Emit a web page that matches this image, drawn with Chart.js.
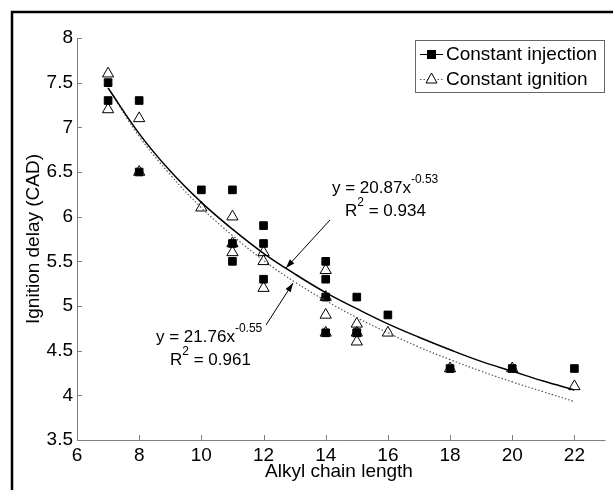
<!DOCTYPE html>
<html>
<head>
<meta charset="utf-8">
<script src="https://cdn.jsdelivr.net/npm/chart.js@4/dist/chart.umd.min.js"></script>
<style>
  body { margin: 0; background: #fff; overflow: hidden; }
  canvas { display: block; }
</style>
</head>
<body>
<canvas id="myChart" width="613" height="490"></canvas>
<script>
// measured points
var injX = [7, 7, 8, 8, 10, 11, 11, 11, 12, 12, 12, 14, 14, 14, 14, 15, 15, 15, 16, 18, 20, 22];
var injY = [7.5, 7.3, 7.3, 6.5, 6.3, 6.3, 5.7, 5.5, 5.9, 5.7, 5.3, 5.5, 5.3, 5.1, 4.7, 5.1, 4.7, 4.7, 4.9, 4.3, 4.3, 4.3];
var ignX = [7, 7, 8, 8, 10, 11, 11, 11, 12, 12, 12, 14, 14, 14, 14, 15, 15, 15, 16, 18, 20, 22];
var ignY = [7.6, 7.2, 7.1, 6.5, 6.1, 6.0, 5.7, 5.6, 5.6, 5.5, 5.2, 5.4, 5.1, 4.9, 4.7, 4.8, 4.7, 4.6, 4.7, 4.3, 4.3, 4.1];

// trend lines
var fitX = [7, 8, 9, 10, 11, 12, 13, 14, 15, 16, 17, 18, 19, 20, 21, 22];
var fitInj = [7.44, 6.93, 6.51, 6.16, 5.86, 5.59, 5.36, 5.15, 4.97, 4.80, 4.65, 4.51, 4.38, 4.27, 4.16, 4.06];
var fitIgn = [7.44, 6.90, 6.47, 6.10, 5.79, 5.51, 5.27, 5.06, 4.87, 4.70, 4.54, 4.40, 4.27, 4.15, 4.04, 3.93];

var xTicks = [6, 8, 10, 12, 14, 16, 18, 20, 22];
var yTicks = [3.5, 4, 4.5, 5, 5.5, 6, 6.5, 7, 7.5, 8];

var FONT = "'Liberation Sans', Arial, Helvetica, sans-serif";

function pts(xs, ys) {
  return xs.map(function (x, i) { return { x: x, y: ys[i] }; });
}

function arrow(ctx, x1, y1, x2, y2) {
  var a = Math.atan2(y2 - y1, x2 - x1);
  ctx.beginPath();
  ctx.moveTo(x1, y1);
  ctx.lineTo(x2, y2);
  ctx.stroke();
  ctx.beginPath();
  ctx.moveTo(x2, y2);
  ctx.lineTo(x2 - 9 * Math.cos(a) + 3 * Math.sin(a), y2 - 9 * Math.sin(a) - 3 * Math.cos(a));
  ctx.lineTo(x2 - 9 * Math.cos(a) - 3 * Math.sin(a), y2 - 9 * Math.sin(a) + 3 * Math.cos(a));
  ctx.closePath();
  ctx.fill();
}

// text with a superscript part: base, sup, rest
function supText(ctx, x, y, base, sup, rest) {
  ctx.font = "17px " + FONT;
  ctx.fillText(base, x, y);
  var w = ctx.measureText(base).width;
  ctx.font = "12px " + FONT;
  ctx.fillText(sup, x + w, y - 8);
  var w2 = ctx.measureText(sup).width;
  if (rest) {
    ctx.font = "17px " + FONT;
    ctx.fillText(rest, x + w + w2, y);
  }
}

var extras = {
  id: "extras",
  beforeDraw: function (chart) {
    var ctx = chart.ctx;
    ctx.save();
    ctx.fillStyle = "#fff";
    ctx.fillRect(0, 0, chart.width, chart.height);
    // frame of the figure, cut off on the right and at the bottom
    ctx.strokeStyle = "#000";
    ctx.lineWidth = 2.5;
    ctx.beginPath();
    ctx.moveTo(12, chart.height);
    ctx.lineTo(12, 12);
    ctx.lineTo(chart.width, 12);
    ctx.stroke();
    ctx.restore();
  },
  beforeDatasetsDraw: function (chart) {
    var ctx = chart.ctx, a = chart.chartArea;
    var xs = chart.scales.x, ys = chart.scales.y;
    ctx.save();
    ctx.strokeStyle = "#808080";
    ctx.lineWidth = 1;
    ctx.beginPath();
    ctx.moveTo(a.left + 0.5, a.top);
    ctx.lineTo(a.left + 0.5, a.bottom + 0.5);
    ctx.lineTo(a.right, a.bottom + 0.5);
    ctx.stroke();
    ctx.beginPath();
    yTicks.forEach(function (v) {
      var y = Math.round(ys.getPixelForValue(v)) + 0.5;
      ctx.moveTo(a.left, y);
      ctx.lineTo(a.left + 5, y);
    });
    xTicks.forEach(function (v) {
      var x = Math.round(xs.getPixelForValue(v)) + 0.5;
      ctx.moveTo(x, a.bottom);
      ctx.lineTo(x, a.bottom - 5);
    });
    ctx.stroke();
    ctx.restore();
  },
  afterDraw: function (chart) {
    var ctx = chart.ctx;
    ctx.save();
    ctx.fillStyle = "#000";
    ctx.strokeStyle = "#000";
    ctx.textBaseline = "middle";

    // axis titles
    ctx.font = "19px " + FONT;
    ctx.textAlign = "center";
    ctx.fillText("Alkyl chain length", 339, 472);
    ctx.save();
    ctx.translate(34, 239);
    ctx.rotate(-Math.PI / 2);
    ctx.fillText("Ignition delay (CAD)", 0, 0);
    ctx.restore();

    // equations
    ctx.textAlign = "left";
    supText(ctx, 332, 188, "y = 20.87x", "-0.53");
    supText(ctx, 345, 211, "R", "2", " = 0.934");
    supText(ctx, 156, 337, "y = 21.76x", "-0.55");
    supText(ctx, 170, 360, "R", "2", " = 0.961");

    ctx.lineWidth = 1;
    arrow(ctx, 330, 220, 286, 268);
    arrow(ctx, 266, 325, 293, 283);

    // legend
    ctx.fillStyle = "#fff";
    ctx.fillRect(415, 40, 189, 52);
    ctx.strokeStyle = "#666";
    ctx.strokeRect(415.5, 40.5, 189, 52);
    ctx.fillStyle = "#000";
    ctx.strokeStyle = "#000";
    ctx.beginPath();
    ctx.moveTo(420, 54.5);
    ctx.lineTo(443, 54.5);
    ctx.stroke();
    ctx.fillRect(427, 50, 9, 9);
    ctx.save();
    ctx.strokeStyle = "#555";
    ctx.setLineDash([1.5, 2]);
    ctx.beginPath();
    ctx.moveTo(420, 79.5);
    ctx.lineTo(443, 79.5);
    ctx.stroke();
    ctx.restore();
    ctx.fillStyle = "#fff";
    ctx.beginPath();
    ctx.moveTo(431.5, 73);
    ctx.lineTo(437, 83);
    ctx.lineTo(426, 83);
    ctx.closePath();
    ctx.fill();
    ctx.stroke();
    ctx.fillStyle = "#000";
    ctx.font = "19px " + FONT;
    ctx.fillText(chart.data.datasets[0].label, 446, 55);
    ctx.fillText(chart.data.datasets[1].label, 446, 80);
    ctx.restore();
  }
};

new Chart("myChart", {
  type: "scatter",
  data: {
    datasets: [{
      label: "Constant injection",
      data: pts(injX, injY),
      pointStyle: "rect",
      pointRadius: 5.4,
      backgroundColor: "#000",
      borderColor: "#000",
      borderWidth: 1,
      order: 4
    }, {
      label: "Constant ignition",
      data: pts(ignX, ignY),
      pointStyle: "triangle",
      pointRadius: 6.5,
      backgroundColor: "rgba(0,0,0,0)",
      borderColor: "#000",
      borderWidth: 1,
      order: 3
    }, {
      type: "line",
      label: "fit injection",
      data: pts(fitX, fitInj),
      borderColor: "#000",
      borderWidth: 1.5,
      pointRadius: 0,
      tension: 0.4,
      fill: false,
      order: 1
    }, {
      type: "line",
      label: "fit ignition",
      data: pts(fitX, fitIgn),
      borderColor: "#555",
      borderWidth: 1.2,
      borderDash: [1.5, 2],
      pointRadius: 0,
      tension: 0.4,
      fill: false,
      order: 2
    }]
  },
  options: {
    responsive: false,
    animation: false,
    layout: { padding: { left: 0, top: 38, right: 6, bottom: 0 } },
    plugins: {
      legend: { display: false },
      tooltip: { enabled: false }
    },
    scales: {
      x: {
        type: "linear",
        min: 6,
        max: 23,
        afterFit: function (s) { s.height = 50; },
        afterBuildTicks: function (s) { s.ticks = xTicks.map(function (v) { return { value: v }; }); },
        grid: { display: false, drawTicks: false },
        border: { display: false },
        ticks: {
          font: { family: FONT, size: 19 }, color: "#000", padding: 4, maxRotation: 0, autoSkip: false,
          callback: function (v) { return String(v); }
        }
      },
      y: {
        min: 3.5,
        max: 8,
        afterFit: function (s) { s.width = 77; },
        afterBuildTicks: function (s) { s.ticks = yTicks.map(function (v) { return { value: v }; }); },
        grid: { display: false, drawTicks: false },
        border: { display: false },
        ticks: {
          font: { family: FONT, size: 19 }, color: "#000", padding: 4, autoSkip: false,
          callback: function (v) { return String(v); }
        }
      }
    }
  },
  plugins: [extras]
});
</script>
</body>
</html>
